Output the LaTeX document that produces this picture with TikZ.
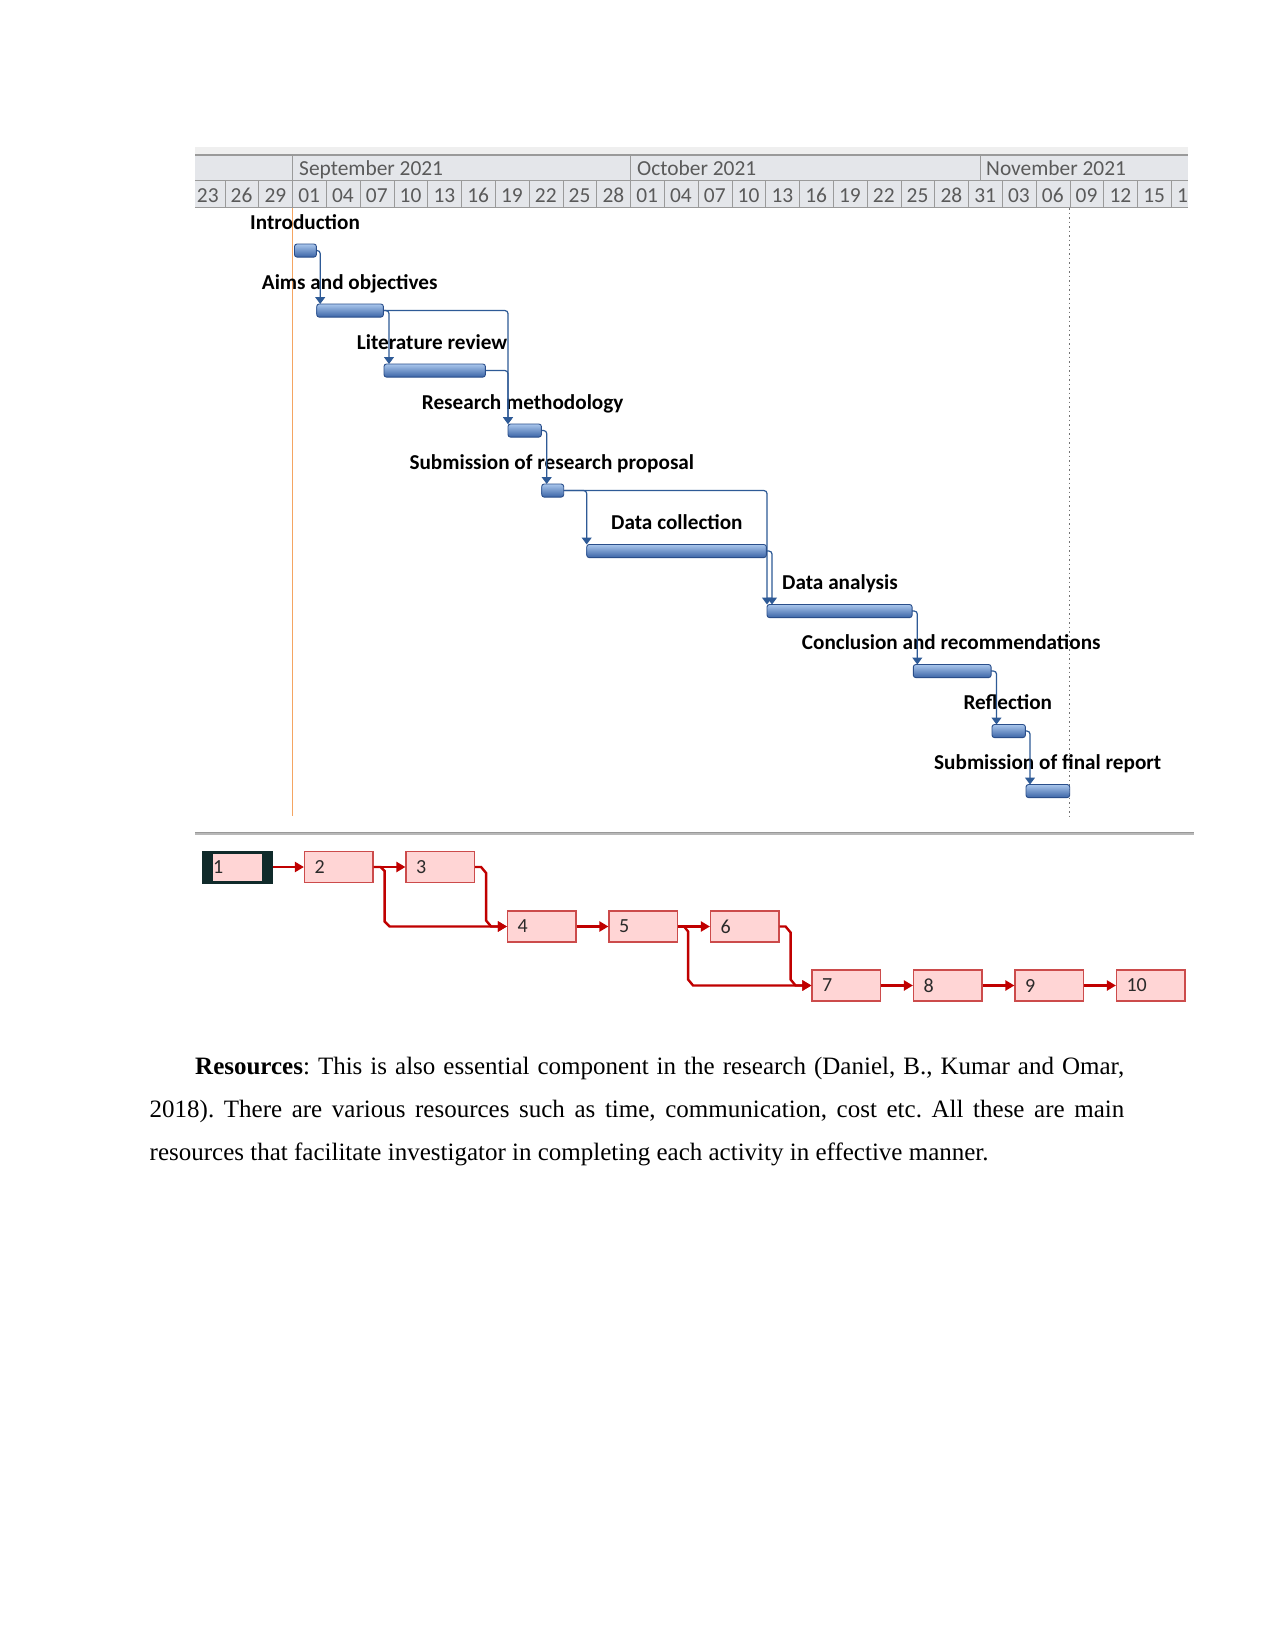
\documentclass[tikz,border=0pt]{standalone}
\usepackage{fontspec}
\setmainfont{Liberation Serif}
\newfontfamily\calibri{Carlito}
\usetikzlibrary{arrows.meta,calc}
\definecolor{hdrfill}{HTML}{E4E6EA}
\definecolor{hdrlight}{HTML}{EFEFEF}
\definecolor{hdrline}{HTML}{9A9A9A}
\definecolor{hdrtext}{HTML}{5A5A5A}
\definecolor{bartop}{HTML}{A9C6EC}
\definecolor{barmid}{HTML}{6E99D6}
\definecolor{barbot}{HTML}{3B64A6}
\definecolor{barline}{HTML}{2A4E8A}
\definecolor{linkblue}{HTML}{2E5A96}
\definecolor{orangeln}{HTML}{F4A562}
\definecolor{netfill}{HTML}{FFD5D5}
\definecolor{netborder}{HTML}{CC4B4B}
\definecolor{netred}{HTML}{C00000}
\definecolor{nettext}{HTML}{2A2A2A}
\definecolor{darkteal}{HTML}{102A2A}
\tikzset{
  hdrtxt/.style={anchor=base west, inner sep=0pt, text=hdrtext, font=\calibri\fontsize{21.4}{24}\selectfont},
  tasklbl/.style={anchor=base west, inner sep=0pt, text=black, font=\calibri\bfseries\fontsize{21.2}{24}\selectfont},
  gbar/.style={minimum height=12.7pt, inner sep=0pt, anchor=north west},
  glink/.style={draw=linkblue, line width=1.2pt, rounded corners=3pt, -{Triangle[width=10pt,length=7pt]}},
  netbox/.style={draw=netborder, fill=netfill, line width=1.2pt, minimum height=31pt, text width=48.5pt, inner xsep=10pt, inner ysep=0pt, align=left, font=\calibri\fontsize{20}{22}\selectfont, text=nettext},
  netfirst/.style={netbox, draw=darkteal, fill=darkteal, line width=2pt,
    path picture={\fill[netfill] ([xshift=10pt,yshift=-2pt]path picture bounding box.north west) rectangle ([xshift=-10pt,yshift=2pt]path picture bounding box.south east);}},
  netlink/.style={draw=netred, line width=2.4pt, -{Triangle[width=10pt,length=9pt]}},
  bodytxt/.style={anchor=base west, inner sep=0pt, font=\fontsize{25}{43}\selectfont}
}
\begin{document}
\frenchspacing
\begin{tikzpicture}[x=1pt,y=-1pt]
\path[use as bounding box, fill=white] (0,0) rectangle (1275,1651);

% ---------- header ----------
\fill[hdrlight] (195,147) rectangle (1188,155);
\fill[hdrfill] (195,155) rectangle (1188,207.5);
\draw[hdrline, line width=1.2pt] (195,155) -- (1188,155);
\draw[hdrline, line width=1pt] (195,180.5) -- (1188,180.5);
\draw[hdrline, line width=1.2pt] (195,207.5) -- (1188,207.5);
\foreach \mx in {292.6,630.6,980} \draw[hdrline, line width=1pt] (\mx,155) -- (\mx,180.5);
\foreach \k in {1,...,29} \draw[hdrline, line width=1pt] ({191.2+33.8*\k},180.5) -- ({191.2+33.8*\k},207.5);
\node[hdrtxt] (m1) at (299,175.3) {September 2021};
\node[hdrtxt] (m2) at (637,175.3) {October 2021};
\node[hdrtxt] (m3) at (986,175.3) {November 2021};
\foreach \dd [count=\k from 0] in {23,26,29,01,04,07,10,13,16,19,22,25,28,01,04,07,10,13,16,19,22,25,28,31,03,06,09,12,15,1}
  \node[hdrtxt] (day\k) at ({191.2+33.8*\k+5.5},202.2) {\dd};

% ---------- vertical markers ----------
\draw[orangeln, line width=1.8pt] (292.5,208) -- (292.5,816);
\draw[black!55, line width=1pt, dash pattern=on 1.5pt off 3pt] (1069.5,208) -- (1069.5,816);

% ---------- task labels ----------
\node[tasklbl] (l1) at (250,229.4) {Introduction};
\node[tasklbl] (l2) at (261.7,289.4) {Aims and objectives};
\node[tasklbl] (l3) at (356.7,349.4) {Literature review};
\node[tasklbl] (l4) at (421.7,409.4) {Research methodology};
\node[tasklbl] (l5) at (409.3,469.4) {Submission of research proposal};
\node[tasklbl] (l6) at (611,529.4) {Data collection};
\node[tasklbl] (l7) at (782,589.9) {Data analysis};
\node[tasklbl] (l8) at (801.7,649.9) {Conclusion and recommendations};
\node[tasklbl] (l9) at (963.3,709.9) {Reflection};
\node[tasklbl] (l10) at (934,769.9) {Submission of final report};

% ---------- bar anchors ----------
\node[gbar, minimum width=21.5pt] (b1) at (294.5,244) {};
\node[gbar, minimum width=66.3pt] (b2) at (316.7,304) {};
\node[gbar, minimum width=101pt] (b3) at (384,364) {};
\node[gbar, minimum width=33pt] (b4) at (508,424) {};
\node[gbar, minimum width=21.6pt] (b5) at (541.7,484) {};
\node[gbar, minimum width=179.3pt] (b6) at (586.7,544.5) {};
\node[gbar, minimum width=144.7pt] (b7) at (767,604.5) {};
\node[gbar, minimum width=77.4pt] (b8) at (913.3,664.5) {};
\node[gbar, minimum width=33pt] (b9) at (992,724.5) {};
\node[gbar, minimum width=43.3pt] (b10) at (1026,784.5) {};

% ---------- links ----------
\draw[glink] (b1.east) -| ([xshift=3.5pt]b2.north west);
\draw[glink] (b2.east) -| ([xshift=5pt]b3.north west);
\draw[glink] (b2.east) -| (b4.north west);
\draw[glink] (b3.east) -| (b4.north west);
\draw[glink] (b4.east) -| ([xshift=5pt]b5.north west);
\draw[glink] (b5.east) -| (b6.north west);
\draw[glink] (b5.east) -| (b7.north west);
\draw[glink] (b6.east) -| ([xshift=5pt]b7.north west);
\draw[glink] (b7.east) -| ([xshift=4pt]b8.north west);
\draw[glink] (b8.east) -| ([xshift=4.5pt]b9.north west);
\draw[glink] (b9.east) -| ([xshift=4pt]b10.north west);

% ---------- visible bars ----------
\foreach \b in {b1,b2,b3,b4,b5,b6,b7,b8,b9,b10}
  \path[draw=barline, line width=0.9pt, rounded corners=2.5pt, top color=bartop, middle color=barmid, bottom color=barbot]
    (\b.north west) rectangle (\b.south east);

% ---------- separator ----------
\draw[black!28, line width=3pt] (195,833.5) -- (1194,833.5);
\draw[black!40, line width=0.8pt] (195,832) -- (1194,832);

% ---------- network ----------
\node[netfirst] (n1) at (237.25,867) {1};
\node[netbox] (n2) at (338.75,867) {2};
\node[netbox] (n3) at (440.25,867) {3};
\node[netbox] (n4) at (541.75,926.5) {4};
\node[netbox] (n5) at (643.25,926.5) {5};
\node[netbox] (n6) at (744.75,926.5) {6};
\node[netbox] (n7) at (846.25,985.5) {7};
\node[netbox] (n8) at (947.75,985.5) {8};
\node[netbox] (n9) at (1049.25,985.5) {9};
\node[netbox] (n10) at (1150.75,985.5) {10};

\draw[netlink] (n1.east) -- (n2.west);
\draw[netlink] (n2.east) -- (n3.west);
\draw[netlink] (n2.east) -- ++(7,0) -- ++(4,4) -- ($(n2.east |- n4.west)+(11,-5)$) -- ++(5,5) -- (n4.west);
\draw[netlink] (n3.east) -- ++(6,0) -- ++(5,6) -- ($(n3.east |- n4.west)+(11,-6)$) -- ++(5,6) -- (n4.west);
\draw[netlink] (n4.east) -- (n5.west);
\draw[netlink] (n5.east) -- (n6.west);
\draw[netlink] (n5.east) -- ++(6,0) -- ++(4,5) -- ($(n5.east |- n7.west)+(10,-6)$) -- ++(5,6) -- (n7.west);
\draw[netlink] (n6.east) -- ++(6,0) -- ++(5,6) -- ($(n6.east |- n7.west)+(11,-6)$) -- ++(5,6) -- (n7.west);
\draw[netlink] (n7.east) -- (n8.west);
\draw[netlink] (n8.east) -- (n9.west);
\draw[netlink] (n9.east) -- (n10.west);

% ---------- body text ----------
\node[bodytxt] (t1) at (195,1074) {\hbox to 929pt{\textbf{Resources}: This is also essential component in the research (Daniel, B., Kumar and Omar,}};
\node[bodytxt] (t2) at (149.5,1117) {\hbox to 974.5pt{2018). There are various resources such as time, communication, cost etc. All these are main}};
\node[bodytxt] (t3) at (149.5,1160) {resources that facilitate investigator in completing each activity in effective manner.};
\end{tikzpicture}
\end{document}
